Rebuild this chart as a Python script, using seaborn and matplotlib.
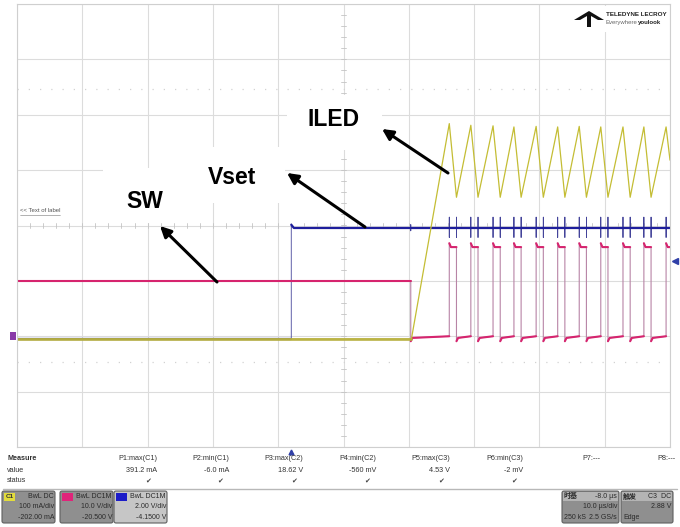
import numpy as np
import pandas as pd
import seaborn as sns
import matplotlib.pyplot as plt
from matplotlib.patches import FancyBboxPatch, Rectangle, Polygon

sns.set_style("white")
plt.rcParams['font.family'] = ['Liberation Sans', 'Noto Sans CJK SC', 'DejaVu Sans']

# scope settings
time_per_div = 10.0                    # us/div
delay = -8.0                           # us
c1_scale, c1_offset = 100.0, -202.0    # ILED, mA
c2_scale, c2_offset = 10.0, -20.5      # SW, V
c3_scale, c3_offset = 2.0, -4.15       # Vset, V
trig_level = 2.88                      # V on C3

# levels
vset_low, vset_high = 0.05, 4.06
vset_step_t = 0.0
spike_up, spike_down = 4.45, 3.72
sw_idle = 10.5
sw_drop_t = 18.3
sw_low, sw_high, sw_peak = 0.2, 16.6, 17.3
sw_rise = [24.2, 27.5, 30.9, 34.1, 37.5, 40.8, 44.1, 47.4, 50.8, 54.0, 57.4]
sw_fall = [25.3, 28.6, 32.0, 35.2, 38.6, 41.9, 45.2, 48.5, 51.9, 55.1]
iled_base = -3.0
iled_ramp_t = 18.4
iled_peak = [386, 383, 382, 380, 381, 380, 381, 380, 380, 380, 380]
iled_valley = [253, 253, 253, 253, 253, 253, 253, 253, 253, 253]
iled_end = 320

# measurement table
meas_names = ["P1:max(C1)", "P2:min(C1)", "P3:max(C2)", "P4:min(C2)",
              "P5:max(C3)", "P6:min(C3)", "P7:---", "P8:---"]
meas_values = ["391.2 mA", "-6.0 mA", "18.62 V", "-560 mV", "4.53 V", "-2 mV", "", ""]
meas_ok = [True, True, True, True, True, True, False, False]

ch_names = ["C1", "C2", "C3"]
ch_coupling = ["BwL DC", "BwL DC1M", "BwL DC1M"]
ch_vdiv = ["100 mA/div", "10.0 V/div", "2.00 V/div"]
ch_offs = ["-202.00 mA", "-20.500 V", "-4.1500 V"]
ch_colors = ["#e2dc3c", "#e0247a", "#1c1cc8"]

left = -5 * time_per_div - delay
right = 5 * time_per_div - delay

# --- build traces ---
vt = [left, vset_step_t, vset_step_t, vset_step_t + 0.4]
vv = [vset_low, vset_low, vset_high + 0.12, vset_high]
vt += [sw_drop_t, sw_drop_t, sw_drop_t, sw_drop_t]
vv += [vset_high, vset_high + 0.12, vset_high - 0.1, vset_high]
for e in sorted(sw_rise + sw_fall):
    vt += [e, e, e, e]
    vv += [vset_high, spike_up, spike_down, vset_high]
vt.append(right)
vv.append(vset_high)

st = [left, sw_drop_t, sw_drop_t, sw_drop_t + 0.25]
sv = [sw_idle, sw_idle, sw_low - 0.6, sw_low]
for i, r in enumerate(sw_rise):
    st += [r, r, r + 0.25]
    sv += [sw_low + 0.3, sw_peak, sw_high]
    if i < len(sw_fall):
        f = sw_fall[i]
        st += [f, f, f + 0.25]
        sv += [sw_high, sw_low - 0.6, sw_low]
st.append(right)
sv.append(sw_high)

it = [left, iled_ramp_t]
iv = [iled_base, iled_base]
for i, p in enumerate(iled_peak):
    it.append(sw_rise[i])
    iv.append(p)
    if i < len(iled_valley):
        it.append(sw_fall[i])
        iv.append(iled_valley[i])
it.append(right)
iv.append(iled_end)


def trace_df(t, v, scale, offset):
    df = pd.DataFrame({"t": t, "div": (np.array(v, dtype=float) + offset) / scale})
    df["seg"] = (df["t"].diff() == 0).cumsum()
    return df


fig = plt.figure(figsize=(6.8, 5.27), dpi=100)
ax = fig.add_axes([17 / 680, 1 - 447 / 527, 653 / 680, 443 / 527])

# grid
ax.set_xlim(left, right)
ax.set_ylim(-4, 4)
ax.set_xticks(np.arange(left, right + 0.1, time_per_div))
ax.set_yticks(np.arange(-4, 5, 1))
ax.tick_params(length=0, labelbottom=False, labelleft=False)
ax.grid(True, color="#dcdcdc", lw=0.8)
for s in ax.spines.values():
    s.set_color("#cfcfcf")
    s.set_linewidth(0.8)
xc = (left + right) / 2
for x in np.arange(left, right, time_per_div / 5):
    ax.plot([x, x], [-0.05, 0.05], color="#c4c4c4", lw=0.6)
for y in np.arange(-4, 4, 0.2):
    ax.plot([xc - 0.45, xc + 0.45], [y, y], color="#c4c4c4", lw=0.6)
for y in (2.47, -2.47):
    ax.axhline(y, color="#d2d2d2", lw=0.9, ls=(0, (1, 8)))

# Vset (C3)
dv = trace_df(vt, vv, c3_scale, c3_offset)
sns.lineplot(data=dv, x="t", y="div", sort=False, estimator=None,
             color="#44449a", lw=0.6, ax=ax)
sns.lineplot(data=dv, x="t", y="div", units="seg", sort=False, estimator=None,
             color="#1e1e9c", lw=1.6, ax=ax)

# SW (C2)
ds = trace_df(st, sv, c2_scale, c2_offset)
sns.lineplot(data=ds, x="t", y="div", sort=False, estimator=None,
             color="#b884a6", lw=0.8, ax=ax)
sns.lineplot(data=ds, x="t", y="div", units="seg", sort=False, estimator=None,
             color="#d6246e", lw=1.5, ax=ax)

# ILED (C1)
di = trace_df(it, iv, c1_scale, c1_offset)
sns.lineplot(data=di, x="t", y="div", sort=False, estimator=None,
             color="#c4bd34", lw=0.9, ax=ax)
sns.lineplot(data=di[di["t"] <= iled_ramp_t], x="t", y="div", sort=False,
             estimator=None, color="#b7b040", lw=2.0, alpha=0.9, ax=ax)
ax.set_xlabel("")
ax.set_ylabel("")

# trigger markers
ax.plot([1.008], [(trig_level + c3_offset) / c3_scale], marker="<", ms=4,
        color="#3040a8", transform=ax.get_yaxis_transform(), clip_on=False)
ax.plot([0], [-0.012], marker="^", ms=3.5, color="#3040a8",
        transform=ax.get_xaxis_transform(), clip_on=False)

# --- overlay in pixel units ---
pan = fig.add_axes([0, 0, 1, 1], zorder=5)
pan.set_xlim(0, 680)
pan.set_ylim(527, 0)
pan.axis("off")
pan.patch.set_alpha(0)

pan.add_patch(Rectangle((10, 332), 6, 8, color="#8a3aa8", lw=0))
pan.text(20, 211, "<< Text of label", fontsize=4.3, color="#555555", va="center")
pan.plot([20, 60], [214.5, 214.5], color="#777777", lw=0.4)

# label boxes + arrows
for (x0, y0, w, h) in [(287, 95, 95, 55), (195, 147, 90, 56), (103, 168, 97, 55)]:
    pan.add_patch(Rectangle((x0, y0), w, h, color="white", lw=0))
lab_kw = dict(fontsize=16.5, fontweight="bold", ha="center", va="center", color="black")
pan.text(333.5, 120, "ILED", **lab_kw)
pan.text(232, 177, "Vset", **lab_kw)
pan.text(144.5, 201, "SW", **lab_kw)
arrow_kw = dict(arrowstyle="-|>", color="black", lw=2.2, mutation_scale=16,
                shrinkA=0, shrinkB=0)
pan.annotate("", xy=(382, 129), xytext=(448, 173), arrowprops=arrow_kw)
pan.annotate("", xy=(287, 173), xytext=(365, 227), arrowprops=arrow_kw)
pan.annotate("", xy=(160, 226), xytext=(217, 282), arrowprops=arrow_kw)

# logo
pan.add_patch(Rectangle((570, 6), 98, 26, color="white", lw=0))
pan.add_patch(Polygon([(574, 20), (589, 11), (604, 20), (598, 20), (591, 16),
                       (591, 27), (587, 27), (587, 16), (580, 20)],
                      closed=True, color="#111111", lw=0))
pan.text(606, 15, "TELEDYNE LECROY", fontsize=4.5, fontweight="bold",
         va="center", color="#222222")
t1 = pan.text(606, 22.5, "Everywhere", fontsize=4.3, va="center", color="#666666")
fig.canvas.draw()
bb = t1.get_window_extent(renderer=fig.canvas.get_renderer())
pan.text(606 + bb.width, 22.5, "youlook", fontsize=4.3, va="center", color="#222222",
         fontweight="bold")

# measure table
small = dict(fontsize=5.2, color="#333333", va="center")
pan.text(7, 459, "Measure", fontweight="bold", **small)
pan.text(7, 470, "value", **small)
pan.text(7, 481, "status", **small)
col_right = [157, 229, 303, 376, 450, 523, 600, 675]
for xr, nm, val, ok in zip(col_right, meas_names, meas_values, meas_ok):
    pan.text(xr, 459, nm, ha="right", **small)
    pan.text(xr, 470, val, ha="right", **small)
    if ok:
        pan.text(xr - 9, 481, "\u2714", ha="center", fontsize=5, color="#444444",
                 va="center", family="DejaVu Sans")
pan.plot([3, 677], [488.5, 488.5], color="#b8b8b8", lw=1.0)

# channel boxes
tiny = dict(fontsize=5.0, color="#2a2a2a", va="center")
box_x = [2, 60, 114]
for bx, nm, cp, vd, of, col in zip(box_x, ch_names, ch_coupling, ch_vdiv, ch_offs, ch_colors):
    fill = "#c6c6c6" if nm == "C3" else "#8f8f8f"
    pan.add_patch(FancyBboxPatch((bx, 491), 53, 32, boxstyle="round,pad=0,rounding_size=2",
                                 fc=fill, ec="#5f5f5f", lw=0.8))
    pan.add_patch(Rectangle((bx + 2, 493), 11, 8, color=col, lw=0))
    pan.text(bx + 7.5, 497, nm, ha="center", fontsize=4.6, fontweight="bold",
             color="#333333" if nm == "C1" else col, va="center")
    pan.text(bx + 52, 496.5, cp, ha="right", **tiny)
    pan.text(bx + 52, 507, vd, ha="right", **tiny)
    pan.text(bx + 52, 517.5, of, ha="right", **tiny)

# timebase / trigger boxes
for bx, w in [(562, 57), (621, 52)]:
    pan.add_patch(FancyBboxPatch((bx, 491), w, 32, boxstyle="round,pad=0,rounding_size=2",
                                 fc="#8f8f8f", ec="#5f5f5f", lw=0.8))
    pan.add_patch(Rectangle((bx + 1, 492), w - 2, 9, color="#b4b4b4", lw=0))
pan.text(564, 496.5, "时基", fontweight="bold", **tiny)
pan.text(617, 496.5, "-8.0 µs", ha="right", **tiny)
pan.text(617, 507, "10.0 µs/div", ha="right", **tiny)
pan.text(564, 517.5, "250 kS", **tiny)
pan.text(617, 517.5, "2.5 GS/s", ha="right", **tiny)
pan.text(623, 496.5, "触发", fontweight="bold", **tiny)
pan.text(671, 496.5, "C3  DC", ha="right", **tiny)
pan.text(671, 507, "2.88 V", ha="right", **tiny)
pan.text(623, 517.5, "Edge", **tiny)

fig.savefig("out.png", dpi=100)
